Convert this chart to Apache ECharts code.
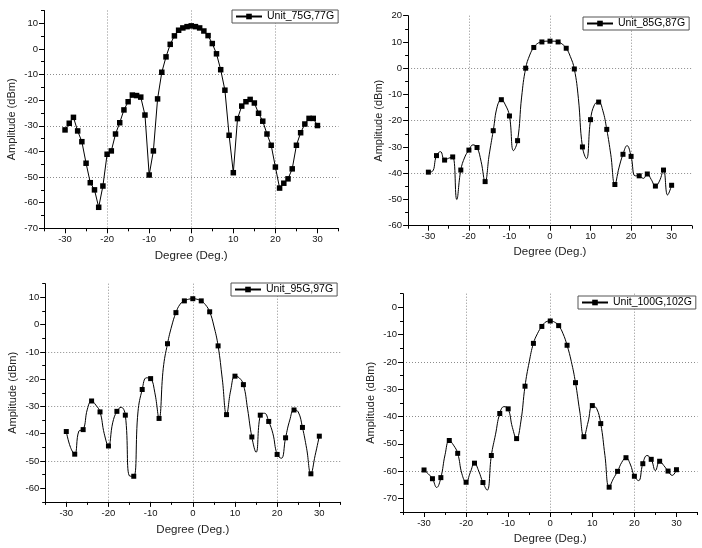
<!DOCTYPE html>
<html><head><meta charset="utf-8">
<script src="https://cdn.jsdelivr.net/npm/echarts@6/dist/echarts.min.js"></script>
<style>html,body{margin:0;padding:0;background:#fff}#c{width:702px;height:548px}</style>
</head><body><div id="c"></div>
<script>
// ---- data ----
const angles = [-30,-29,-28,-27,-26,-25,-24,-23,-22,-21,-20,-19,-18,-17,-16,-15,-14,-13,-12,-11,-10,-9,-8,-7,-6,-5,-4,-3,-2,-1,0,1,2,3,4,5,6,7,8,9,10,11,12,13,14,15,16,17,18,19,20,21,22,23,24,25,26,27,28,29,30];
const amp75 = [-31.6,-29.0,-26.7,-32.0,-36.2,-44.6,-52.2,-55.0,-61.8,-53.5,-41.1,-39.8,-33.2,-28.8,-23.8,-20.6,-18.0,-18.2,-18.8,-25.8,-49.2,-39.8,-19.5,-9.1,-3.1,1.8,5.1,7.3,8.2,8.7,9.0,8.7,8.2,7.0,5.2,2.1,-1.9,-8.1,-16.1,-33.7,-48.3,-27.2,-22.3,-20.6,-19.7,-21.1,-25.1,-28.2,-33.2,-37.6,-46.1,-54.3,-52.4,-50.7,-46.8,-37.6,-32.7,-29.3,-27.1,-27.1,-29.9];
const amp85 = [-39.6,-39.3,-33.3,-31.8,-35.0,-34.3,-33.8,-50.0,-38.8,-33.8,-31.2,-29.2,-30.2,-35.5,-43.2,-33.0,-23.8,-14.5,-12.0,-14.0,-18.2,-31.4,-27.6,-11.0,0.0,5.0,7.9,9.5,10.0,10.3,10.3,10.3,10.0,9.2,7.6,4.5,-0.3,-11.5,-30.0,-34.5,-19.6,-13.8,-12.9,-16.0,-23.3,-33.0,-44.3,-38.0,-32.8,-29.5,-33.6,-41.0,-41.0,-42.0,-40.3,-42.5,-44.9,-43.0,-38.8,-48.3,-44.6];
const amp95 = [-39.2,-45.0,-47.5,-39.0,-38.5,-31.0,-28.0,-29.5,-32.0,-40.0,-44.5,-36.0,-31.8,-30.3,-33.2,-55.5,-55.6,-32.0,-23.8,-19.5,-19.8,-25.0,-34.4,-16.0,-7.0,-0.5,4.4,7.5,8.7,9.3,9.5,9.3,8.7,7.3,4.7,-0.5,-7.8,-20.0,-33.0,-24.0,-18.9,-19.5,-22.0,-31.0,-41.2,-46.8,-33.2,-32.5,-35.5,-40.0,-47.6,-49.0,-41.5,-35.0,-31.3,-32.0,-37.7,-45.5,-54.7,-48.0,-40.9];
const amp100 = [-59.6,-61.0,-62.8,-66.0,-62.4,-54.0,-48.8,-50.5,-53.5,-61.0,-64.1,-60.5,-57.1,-60.0,-64.2,-67.0,-54.3,-46.5,-38.9,-36.4,-37.2,-44.0,-48.1,-42.0,-28.9,-20.0,-13.2,-9.5,-7.0,-5.3,-5.0,-5.4,-6.7,-9.5,-13.9,-19.8,-27.6,-38.0,-47.4,-42.0,-36.0,-37.0,-42.6,-54.3,-65.9,-62.8,-60.1,-56.8,-55.1,-57.4,-61.9,-63.5,-57.3,-54.3,-55.7,-59.8,-56.4,-58.0,-60.0,-61.6,-59.5];
const seriesNames = ['Unit_75G,77G','Unit_85G,87G','Unit_95G,97G','Unit_100G,102G'];
const xTicks = [-30,-20,-10,0,10,20,30];
const yTicks75 = [-70,-60,-50,-40,-30,-20,-10,0,10];
const yTicks85 = [-60,-50,-40,-30,-20,-10,0,10,20];
const yTicks95 = [-60,-50,-40,-30,-20,-10,0,10];
const yTicks100 = [-70,-60,-50,-40,-30,-20,-10,0];
const xRange = [-35,35];
const yRange75 = [-70,15], yRange85 = [-60,20], yRange95 = [-65,15], yRange100 = [-75,5];

// ---- layout / style ----
const FONT = 'Liberation Sans, Arial, sans-serif';
const GRIDC = '#8c8c8c';
const panels = [
  {data:amp75, name:seriesNames[0], yr:yRange75, yt:yTicks75, smooth:false, all:true, sym:5.5,
   grid:{left:44, top:10.5, width:294.5, height:217.8}, leg:{left:232, top:10}, xGap:22, yGap:27},
  {data:amp85, name:seriesNames[1], yr:yRange85, yt:yTicks85, smooth:0.45, all:false, sym:5,
   grid:{left:408.1, top:15.7, width:283.8, height:210}, leg:{left:583, top:17}, xGap:20, yGap:23},
  {data:amp95, name:seriesNames[2], yr:yRange95, yt:yTicks95, smooth:0.45, all:false, sym:5,
   grid:{left:45.2, top:283.7, width:295.2, height:218.2}, leg:{left:231, top:283}, xGap:22, yGap:27},
  {data:amp100, name:seriesNames[3], yr:yRange100, yt:yTicks100, smooth:0.45, all:false, sym:5,
   grid:{left:403, top:293.7, width:294.5, height:218.3}, leg:{left:578, top:296}, xGap:21, yGap:27}
];

const grid=[], xAxis=[], yAxis=[], series=[], legend=[];
const TR = 'rgba(0,0,0,0)';
panels.forEach((p,i)=>{
  grid.push(Object.assign({containLabel:false}, p.grid));
  const lbl = {fontSize:9.5, fontFamily:FONT, color:'#111'};
  xAxis.push({
    gridIndex:i, type:'value', min:xRange[0], max:xRange[1], interval:5, position:'bottom',
    name:'Degree (Deg.)', nameLocation:'middle', nameGap:p.xGap,
    nameTextStyle:{fontSize:11.5, fontFamily:FONT, color:'#222'},
    axisLine:{show:true, onZero:false, lineStyle:{color:'#000', width:1}},
    axisTick:{show:true, length:5, customValues:xTicks, lineStyle:{color:'#000'}},
    axisLabel:Object.assign({margin:6, formatter:v=> (xTicks.indexOf(v)>=0? String(v):'')}, lbl),
    splitLine:{show:true, lineStyle:{color:[TR,GRIDC], type:[1,2], width:1}}
  });
  xAxis.push({
    gridIndex:i, type:'value', min:xRange[0], max:xRange[1], interval:5, position:'bottom',
    axisLine:{show:false, onZero:false}, axisTick:{show:true, length:3, lineStyle:{color:'#000'}},
    axisLabel:{show:false}, splitLine:{show:false}
  });
  const startGray = (p.yr[0] % 10 === 0);
  yAxis.push({
    gridIndex:i, type:'value', min:p.yr[0], max:p.yr[1], interval:5, position:'left',
    name:'Amplitude (dBm)', nameLocation:'middle', nameGap:p.yGap,
    nameTextStyle:{fontSize:11, fontFamily:FONT, color:'#222'},
    axisLine:{show:true, onZero:false, lineStyle:{color:'#000', width:1}},
    axisTick:{show:true, length:5, customValues:p.yt, lineStyle:{color:'#000'}},
    axisLabel:Object.assign({margin:6, formatter:v=> (p.yt.indexOf(v)>=0? String(v):'')}, lbl),
    splitLine:{show:true, showMaxLine:false, lineStyle:{color: startGray?[GRIDC,TR]:[TR,GRIDC], type:[1,2], width:1}}
  });
  yAxis.push({
    gridIndex:i, type:'value', min:p.yr[0], max:p.yr[1], interval:5, position:'left',
    axisLine:{show:false, onZero:false}, axisTick:{show:true, length:3, lineStyle:{color:'#000'}},
    axisLabel:{show:false}, splitLine:{show:false}
  });
  series.push({
    type:'line', name:p.name, xAxisIndex:2*i, yAxisIndex:2*i,
    data: angles.map((a,k)=> (p.all || k%2===0) ? [a, p.data[k]] : {value:[a, p.data[k]], symbol:'none'}),
    symbol:'rect', symbolSize:p.sym, showAllSymbol:true, smooth:p.smooth,
    lineStyle:{color:'#000', width:1}, itemStyle:{color:'#000'}, z:5
  });
  legend.push({
    data:[p.name], left:p.leg.left, top:p.leg.top, selectedMode:false,
    borderColor:'#555', borderWidth:1, backgroundColor:'#fff', padding:[1,4,1,3],
    itemWidth:26, itemHeight:7, textStyle:{fontSize:10.5, fontFamily:FONT, color:'#000'}
  });
});

const chart = echarts.init(document.getElementById('c'), null, {renderer:'canvas'});
chart.setOption({animation:false, backgroundColor:'#fff', grid, xAxis, yAxis, series, legend});
</script></body></html>
